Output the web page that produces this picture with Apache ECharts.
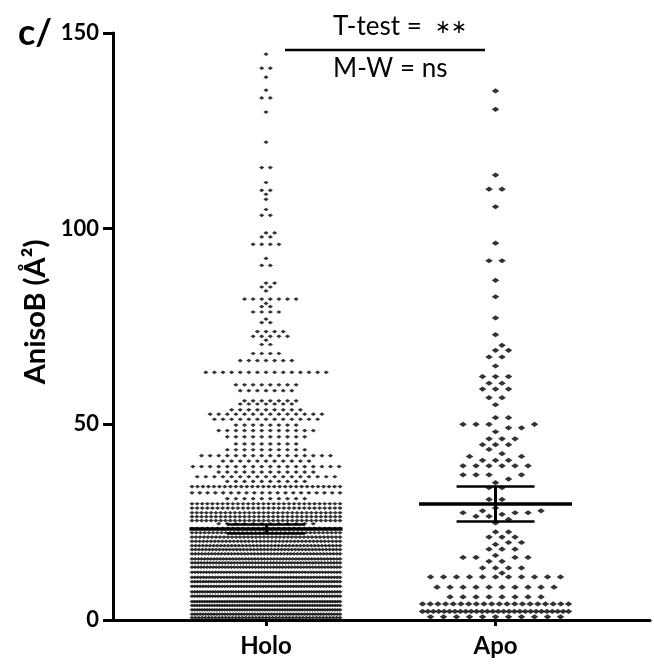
<!DOCTYPE html>
<html><head><meta charset="utf-8">
<script src="https://cdn.jsdelivr.net/npm/echarts@6/dist/echarts.min.js"></script>
<style>html,body{margin:0;padding:0;background:#fff}#c{width:654px;height:670px}</style>
</head><body><div id="c"></div>
<script>
// ---- data ----
const categories = ['Holo', 'Apo'];
const yTickValues = [0, 50, 100, 150];

// Holo: value of each row of dots and how many dots are in it
const holoRowValues = [144.6,141.0,138.7,135.4,133.4,129.8,122.1,115.6,111.8,109.8,108.8,107.5,104.9,103.4,98.9,97.9,96.0,92.4,90.6,86.1,85.1,84.1,82.0,80.9,80.1,78.7,76.9,76.0,73.7,72.5,71.5,70.4,68.1,66.3,63.3,60.1,58.6,56.0,55.2,53.7,52.6,51.3,49.8,48.4,46.8,45.0,43.5,42.0,40.6,39.2,37.8,36.6,35.4,34.1,32.5,31.0,29.7,28.6,27.4,26.4,25.4,24.6,23.4,22.3,21.2,20.1,19.0,18.0,16.9,15.6,14.6,13.5,12.2,10.9,9.8,8.6,7.2,6.1,4.7,3.7,2.6,1.5,0.6];
const holoRowCounts = [1,2,1,1,2,1,1,2,1,2,1,1,1,2,2,2,4,1,2,2,2,1,7,1,2,4,1,2,4,5,1,2,4,7,15,8,7,7,7,9,14,13,8,12,10,8,10,16,11,18,12,17,10,28,20,10,30,30,32,32,32,12,30,36,38,40,42,44,46,48,50,50,52,52,55,55,58,58,60,60,60,55,45];

// Apo
const apoRowValues = [135.2,130.5,113.7,110.1,105.6,96.3,91.8,86.8,82.6,77.2,72.9,70.2,68.9,67.2,64.9,62.2,60.5,59.0,56.8,55.0,51.7,50.0,49.1,48.1,46.3,44.8,43.6,42.5,41.8,40.8,39.4,37.1,36.0,35.1,33.8,30.8,28.6,27.9,27.4,27.0,26.5,25.7,24.8,22.5,21.2,19.8,19.3,18.1,16.5,16.0,15.0,13.3,12.0,11.0,8.4,5.9,4.1,2.2,0.8];
const apoRowCounts = [1,1,1,2,1,1,2,1,1,1,1,1,2,2,1,3,2,3,2,1,2,4,2,1,3,3,1,1,2,3,6,4,1,1,2,2,1,2,3,1,2,1,1,2,3,2,1,3,1,4,2,4,1,11,10,8,20,28,11];

// mean and SEM bars
const holoMean = 23.3, holoSemLow = 22.2, holoSemHigh = 24.4;
const apoMean = 29.7, apoSemLow = 25.3, apoSemHigh = 34.1;

const panelLabel = 'c/';
const yAxisTitle = 'AnisoB (Å²)';
const statTop = 'T-test =  ';
const statStars = '∗∗';
const statBottom = 'M-W = ns';

// ---- chart ----
const FONT = 'Lato';
const chart = echarts.init(document.getElementById('c'));

const baseOption = {
  animation: false,
  backgroundColor: '#fff',
  grid: { left: 113, right: 4, top: 33, bottom: 50 },
  xAxis: {
    type: 'value', min: -0.6667, max: 1.673,
    axisLine: { show: true, onZero: false, lineStyle: { color: '#000', width: 3 } },
    axisTick: { show: true, customValues: [0, 1], length: 6, lineStyle: { color: '#000', width: 3 } },
    axisLabel: { customValues: [0, 1], formatter: v => categories[Math.round(v)], margin: 14,
      color: '#000', fontFamily: FONT, fontWeight: 'bold', fontSize: 24 },
    splitLine: { show: false }
  },
  yAxis: {
    type: 'value', min: 0, max: 150, interval: 50,
    axisLine: { show: true, onZero: false, lineStyle: { color: '#000', width: 3 } },
    axisTick: { show: true, length: 10, lineStyle: { color: '#000', width: 3 } },
    axisLabel: { margin: 14, color: '#000', fontFamily: FONT, fontWeight: 'bold', fontSize: 22,
      formatter: v => (yTickValues.indexOf(v) >= 0 ? String(v) : '') },
    splitLine: { show: false }
  },
  series: []
};
chart.setOption(baseOption);

const p0 = chart.convertToPixel({ gridIndex: 0 }, [0, 0]);
const p1 = chart.convertToPixel({ gridIndex: 0 }, [1, 1]);
const pxPerX = p1[0] - p0[0];
const pxPerY = p0[1] - p1[1];

function swarm(vals, cnts, cfg) {
  const rows = vals.map((v, i) => ({ v, n: cnts[i] })).sort((a, b) => a.v - b.v);
  const placed = [], out = [];
  const s = 2 * cfg.h;
  const minDist = (x, y) => {
    let m = Infinity;
    for (const p of placed) {
      const dy = Math.abs(p.y - y);
      if (dy >= cfg.D) continue;
      const d = Math.hypot(p.x - x, dy);
      if (d < m) m = d;
    }
    return m;
  };
  for (const r of rows) {
    const y = r.v * pxPerY;
    if (r.n > cfg.cap) {
      for (let k = 0; k < r.n; k++) out.push([-cfg.W + 2 * cfg.W * k / (r.n - 1), r.v]);
      continue;
    }
    const basePos = [];
    for (let k = 0; k < r.n; k++) basePos.push((k - (r.n - 1) / 2) * s);
    let done = false;
    const shifts = [0, cfg.h, -cfg.h, 2 * cfg.h, -2 * cfg.h, 3 * cfg.h, -3 * cfg.h];
    for (const sh of shifts) {
      const pos = basePos.map(x => x + sh);
      if (pos.some(x => Math.abs(x) > cfg.W + 0.01)) continue;
      if (pos.every(x => minDist(x, y) >= cfg.D - 0.01)) {
        pos.forEach(x => { placed.push({ x, y }); out.push([x, r.v]); });
        done = true; break;
      }
    }
    if (done) continue;
    const maxSlot = Math.floor(cfg.W / cfg.h + 1e-6);
    for (let k = 0; k < r.n; k++) {
      let best = null, bx = 0, bd = -1;
      outer: for (let sl = 0; sl <= maxSlot; sl++) {
        for (const sg of (sl === 0 ? [1] : [1, -1])) {
          const x = sg * sl * cfg.h;
          const d = minDist(x, y);
          if (d >= cfg.D - 0.01) { best = x; break outer; }
          if (d > bd) { bd = d; bx = x; }
        }
      }
      if (best === null) best = bx;
      placed.push({ x: best, y }); out.push([best, r.v]);
    }
  }
  return out;
}

const holoPts = swarm(holoRowValues, holoRowCounts, { h: 4.3, D: 5, W: 74, cap: 18 })
  .map(([dx, v]) => [0 + dx / pxPerX, v]);
const apoPts = swarm(apoRowValues, apoRowCounts, { h: 6.5, D: 8, W: 73, cap: 12 })
  .map(([dx, v]) => [1 + dx / pxPerX, v]);

function barLines(c, mean, lo, hi) {
  const mh = 76.5 / pxPerX, ch = 39 / pxPerX;
  return [
    { coords: [[c - mh, mean], [c + mh, mean]], lineStyle: { width: 3.5 } },
    { coords: [[c, lo], [c, hi]], lineStyle: { width: 3 } },
    { coords: [[c - ch, lo], [c + ch, lo]], lineStyle: { width: 2.5 } },
    { coords: [[c - ch, hi], [c + ch, hi]], lineStyle: { width: 2.5 } }
  ];
}

chart.setOption({
  series: [
    { type: 'scatter', name: categories[0], data: holoPts, symbol: 'diamond', symbolSize: [5.2, 3.7],
      itemStyle: { color: '#000' }, progressive: 0, large: false, z: 2 },
    { type: 'scatter', name: categories[1], data: apoPts, symbol: 'diamond', symbolSize: [7.6, 5.2],
      itemStyle: { color: '#000' }, progressive: 0, large: false, z: 2 },
    { type: 'lines', coordinateSystem: 'cartesian2d', polyline: false, z: 5,
      lineStyle: { color: '#000', opacity: 1 },
      data: barLines(0, holoMean, holoSemLow, holoSemHigh).concat(barLines(1, apoMean, apoSemLow, apoSemHigh)) }
  ],
  graphic: [
    { type: 'text', x: 18, y: 33, style: { text: panelLabel, fill: '#000', font: 'bold 36px Lato', align: 'left', verticalAlign: 'middle' } },
    { type: 'text', x: 36, y: 312, rotation: Math.PI / 2, style: { text: yAxisTitle, fill: '#000', font: 'bold 29px Lato', align: 'center', verticalAlign: 'middle' } },
    { type: 'text', x: 333, y: 26.5, style: {
        text: '{a|' + statTop + '}{b|' + statStars + '}', fill: '#000', align: 'left', verticalAlign: 'middle',
        rich: { a: { fontFamily: FONT, fontSize: 26, fill: '#000' }, b: { fontFamily: FONT, fontSize: 19, fill: '#000' } } } },
    { type: 'line', shape: { x1: 285, y1: 50, x2: 485, y2: 50 }, style: { stroke: '#000', lineWidth: 2.5 } },
    { type: 'text', x: 333, y: 68.5, style: { text: statBottom, fill: '#000', font: '26px Lato', align: 'left', verticalAlign: 'middle' } }
  ]
});
</script>
</body></html>
